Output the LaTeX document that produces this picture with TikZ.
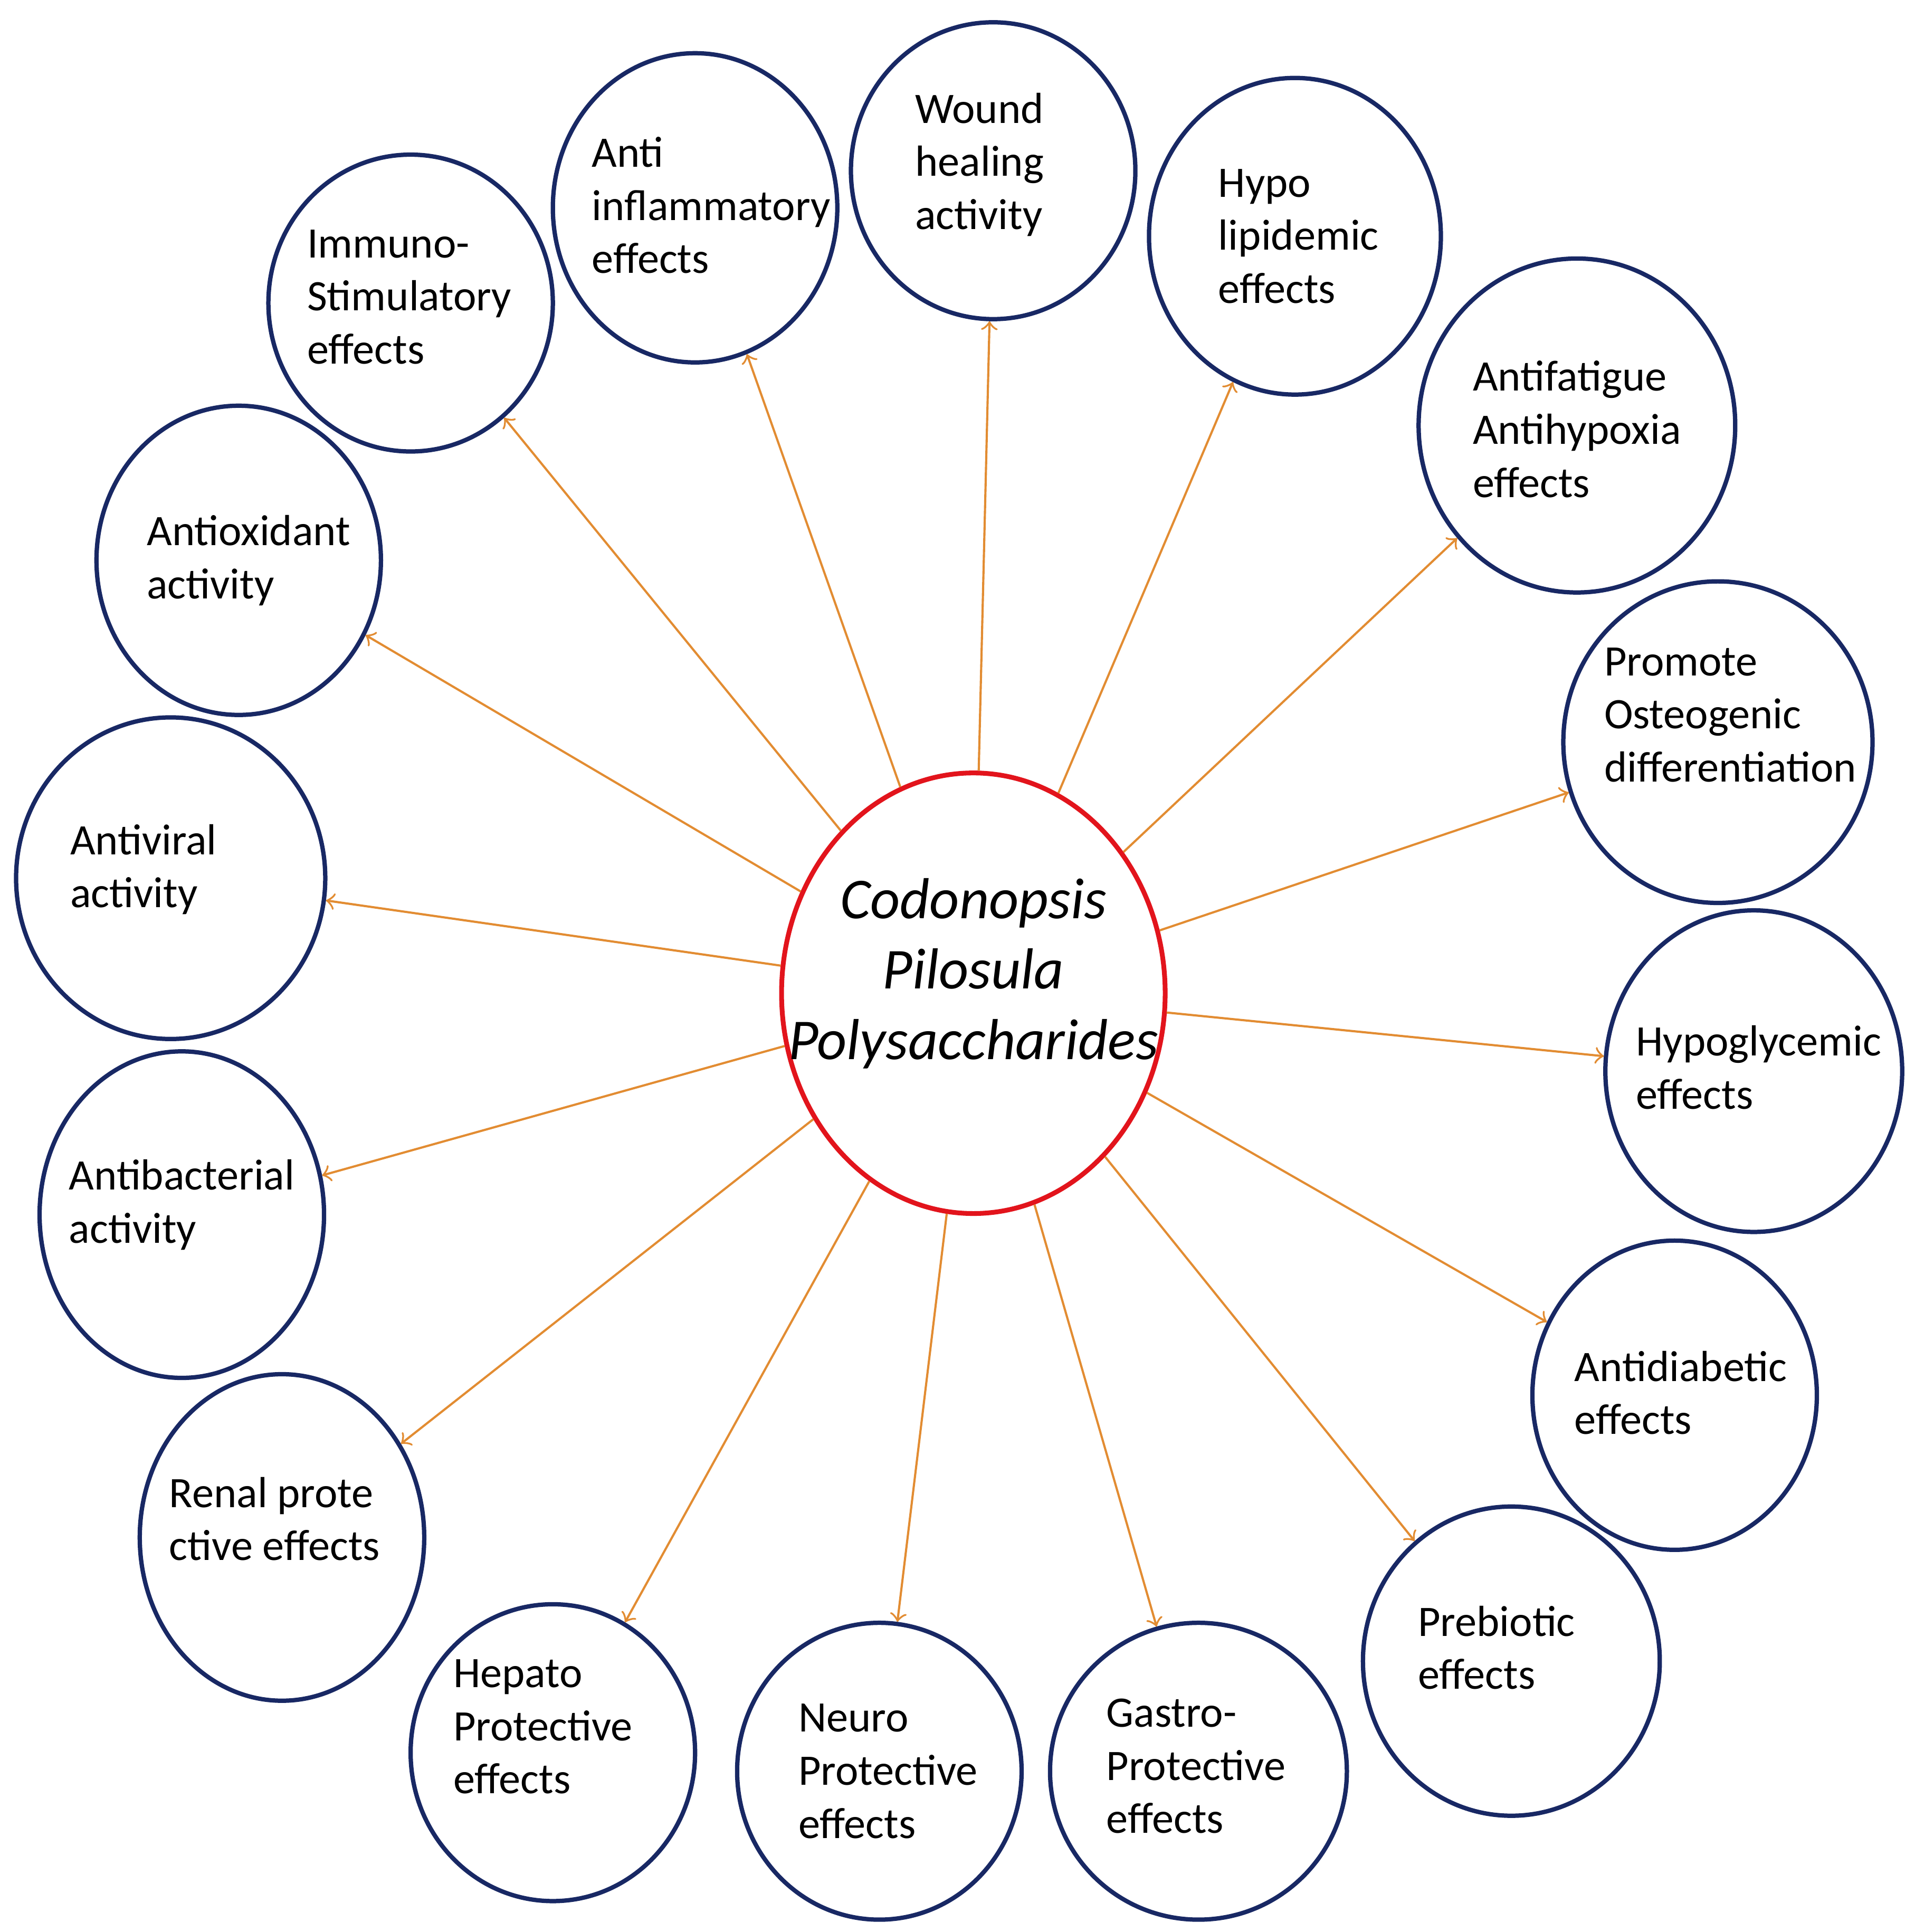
\documentclass[tikz,border=0pt]{standalone}
\usepackage{fontspec}
\setmainfont{Carlito}
\usetikzlibrary{shapes.geometric}
\definecolor{navy}{RGB}{24,40,100}
\definecolor{orng}{RGB}{226,140,50}
\definecolor{redc}{RGB}{226,20,28}

\begin{document}
\begin{tikzpicture}[x=0.01cm, y=-0.01cm,
    effect/.style={ellipse, draw=navy, line width=1pt, inner sep=0pt},
    efftext/.style={align=left, inner sep=0pt, font=\fontsize{10}{12.2}\selectfont},
    arr/.style={->, draw=orng, line width=0.5pt}]
    \useasboundingbox (0,0) rectangle (1548,1562);

    % central node
    \node[ellipse, draw=redc, line width=1.1pt, minimum width=3.1cm,
        minimum height=3.56cm, inner sep=0pt] (cpp) at (787,803) {};
    \node[align=center, inner sep=0pt, font=\fontsize{13.3}{16.2}\selectfont\itshape]
        (cpptext) at (787,787) {Codonopsis\\Pilosula\\Polysaccharides};

    % effects around it
    \foreach \name/\x/\y/\rx/\ry/\tx/\ty/\txt in {
        wound/803/138/115/120/792/133/{Wound\\healing\\ activity},
        inflam/562/168/115/125/575/166/{Anti\\inflammatory\\effects},
        immuno/332/245/115/120/331/240/{Immuno-\\Stimulatory\\effects},
        antiox/193/453/115/125/201/453/{Antioxidant\\activity},
        antivir/138/710/125/130/116/703/{Antiviral\\activity},
        antibac/147/982/115/132/147/974/{Antibacterial\\activity},
        renal/228/1243/115/132/222/1228/{Renal prote\\ctive effects},
        hepato/447/1417/115/120/439/1396/{Hepato\\Protective\\effects},
        neuro/711/1432/115/120/718/1432/{Neuro\\Protective\\effects},
        gastro/969/1432/120/120/967/1428/{Gastro-\\Protective\\effects},
        prebio/1222/1343/120/125/1210/1332/{Prebiotic\\effects},
        antidia/1354/1128/115/125/1359/1126/{Antidiabetic\\effects},
        hypogly/1418/866/120/130/1422/863/{Hypoglycemic\\effects},
        osteo/1389/600/125/130/1399/578/{Promote\\Osteogenic\\differentiation},
        fatigue/1275/344/128/135/1275/347/{Antifatigue\\Antihypoxia\\effects},
        lipid/1047/191/118/128/1050/191/{Hypo\\lipidemic\\effects}}
    {
        \node[effect, minimum width=2*\rx*0.01cm, minimum height=2*\ry*0.01cm]
            (\name) at (\x,\y) {};
        \node[efftext] (\name-t) at (\tx,\ty) {\txt};
        \draw[arr] (cpp) -- (\name);
    }
\end{tikzpicture}
\end{document}
